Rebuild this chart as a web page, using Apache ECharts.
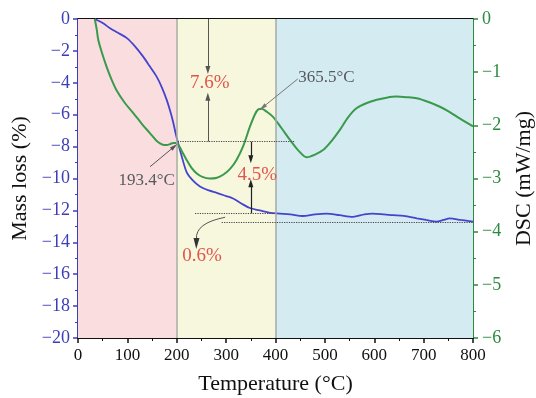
<!DOCTYPE html>
<html><head><meta charset="utf-8">
<script src="https://cdn.jsdelivr.net/npm/echarts@6/dist/echarts.min.js"></script>
<style>html,body{margin:0;padding:0;background:#fff}#c{width:536px;height:398px}</style>
</head><body><div id="c"></div>
<script>
// Temperature ticks
const xTicks = [0,100,200,300,400,500,600,700,800];
// TG mass loss curve (%)
const massT = [34,50,65,80,99,115,132,145,159,170,180,187,193,198,202,210,220,232,247,265,281,300,314,330,348,368,389,409,430,455,480,503,530,557,580,597,620,638,660,686,705,726,740,753,775,800];
const massVal = [0,-0.25,-0.58,-0.85,-1.2,-1.7,-2.36,-2.95,-3.6,-4.3,-5.1,-5.8,-6.5,-7.2,-7.7,-8.6,-9.6,-10.1,-10.5,-10.75,-10.9,-11.1,-11.25,-11.55,-11.85,-12.0,-12.15,-12.2,-12.25,-12.35,-12.25,-12.2,-12.3,-12.4,-12.25,-12.2,-12.25,-12.3,-12.35,-12.5,-12.6,-12.7,-12.6,-12.5,-12.6,-12.7];
// DSC curve (mW/mg)
const dscT = [34,38,41,48,58,68,78,95,112,130,146,158,166,174,180,187,193,198,203,210,220,230,240,252,267,280,294,308,321,335,348,358,365,372,383,395,412,429,446,463,480,497,513,530,547,564,585,605,625,645,665,686,710,733,753,773,800];
const dscVal = [0,-0.2,-0.39,-0.62,-0.9,-1.14,-1.34,-1.58,-1.77,-1.98,-2.15,-2.28,-2.34,-2.37,-2.37,-2.35,-2.33,-2.33,-2.36,-2.48,-2.65,-2.8,-2.9,-2.97,-3.0,-2.99,-2.93,-2.82,-2.65,-2.38,-2.03,-1.8,-1.7,-1.69,-1.75,-1.84,-2.05,-2.27,-2.47,-2.6,-2.55,-2.46,-2.3,-2.09,-1.85,-1.68,-1.58,-1.52,-1.48,-1.46,-1.47,-1.49,-1.56,-1.65,-1.75,-1.87,-2.02];
// Stage boundaries
const stages = [[0,200],[200,400],[400,800]];
// Mass loss levels used in annotations
const levels = [-7.69,-12.18,-12.77];
const lossLabels = ['7.6%','4.5%','0.6%'];
const peakLabels = ['193.4°C','365.5°C'];

const FONT = '"Liberation Serif","DejaVu Serif",serif';
const BLUE = '#3d3db8', GREEN = '#2b8a3e', RED = '#e0564c', GREYT = '#555a5e';
const stageColors = ['#fadedf','#f7f7de','#d5ebf2'];

const massData = massT.map((t,i)=>[t,massVal[i]]);
const dscData = dscT.map((t,i)=>[t,dscVal[i]]);

const dotted = {type:'dotted', color:'#444', width:1.2};
const annData = [
  [{coord:[202,levels[0]], lineStyle:dotted, symbol:'none'},{coord:[439,levels[0]], symbol:'none'}],
  [{coord:[237,levels[1]], lineStyle:dotted, symbol:'none'},{coord:[395,levels[1]], symbol:'none'}],
  [{coord:[291,levels[2]], lineStyle:dotted, symbol:'none'},{coord:[800,levels[2]], symbol:'none'}]
];
const aLine = {type:'solid', color:'#555', width:1};
const aLineDark = {type:'solid', color:'#222', width:1.2};
// 7.6% arrows
annData.push([{coord:[263,0], lineStyle:aLine, symbol:'none'},{coord:[263,-3.2], symbol:'triangle', symbolSize:[5,8]}]);
annData.push([{coord:[263,levels[0]], lineStyle:aLine, symbol:'none'},{coord:[263,-4.87], symbol:'triangle', symbolSize:[5,8]}]);
// 4.5% arrows
annData.push([{coord:[350,levels[0]], lineStyle:aLineDark, symbol:'none'},{coord:[350,-8.8], symbol:'triangle', symbolSize:[5,8]}]);
annData.push([{coord:[350,levels[1]], lineStyle:aLineDark, symbol:'none'},{coord:[350,-10.3], symbol:'triangle', symbolSize:[5,8]}]);
// peak pointers
annData.push([{coord:[146,-9.26], lineStyle:{type:'solid',color:'#555',width:1}, symbol:'none'},{coord:[195,-8.0], symbol:'triangle', symbolSize:[4,8]}]);
annData.push([{coord:[445,-3.76], lineStyle:{type:'solid',color:'#777',width:1}, symbol:'none'},{coord:[374,-5.54], symbol:'triangle', symbolSize:[4,8]}]);

function txt(coord,text,color,align,size){
  return {coord:coord, symbol:'circle', symbolSize:0.001, value:text,
    label:{show:true, position:'inside', formatter:text, color:color, fontFamily:FONT, fontSize:size, align:align, verticalAlign:'middle'}};
}
const texts = [
  txt([267,-4.03], lossLabels[0], RED, 'center', 19),
  txt([363,-9.8], lossLabels[1], RED, 'center', 19),
  txt([251,-14.87], lossLabels[2], RED, 'center', 19),
  txt([139,-10.1], peakLabels[0], GREYT, 'center', 17),
  txt([446,-3.64], peakLabels[1], GREYT, 'left', 17)
];
const minus = v => String(v).replace('-', '\u2212');

const chart = echarts.init(document.getElementById('c'), null, {renderer:'canvas'});
chart.setOption({
  animation:false,
  grid:{left:78, right:63, top:19, bottom:60, containLabel:false, outerBoundsMode:'none'},
  xAxis:[{
    type:'value', min:0, max:800, interval:100,
    name:'Temperature (°C)', nameLocation:'middle', nameGap:35,
    nameTextStyle:{fontFamily:FONT, fontSize:22, color:'#111'},
    axisLine:{onZero:false, lineStyle:{color:'#111', width:2}},
    axisTick:{show:true, inside:false, length:5, lineStyle:{color:'#111', width:1.5}},
    minorTick:{show:true, splitNumber:2, length:3, lineStyle:{color:'#111'}},
    axisLabel:{fontFamily:FONT, fontSize:17, color:'#111', margin:9},
    splitLine:{show:false}
  },{
    type:'value', min:0, max:800, position:'top',
    axisLine:{onZero:false, lineStyle:{color:'#111', width:2}},
    axisTick:{show:false}, axisLabel:{show:false}, splitLine:{show:false}
  }],
  yAxis:[{
    type:'value', min:-20, max:0, interval:2, position:'left',
    name:'Mass loss (%)', nameLocation:'middle', nameGap:46, nameRotate:90,
    nameTextStyle:{fontFamily:FONT, fontSize:22, color:'#111'},
    axisLine:{onZero:false, lineStyle:{color:BLUE, width:2}},
    axisTick:{show:true, length:5, lineStyle:{color:BLUE, width:1.5}},
    minorTick:{show:true, splitNumber:2, length:3, lineStyle:{color:BLUE}},
    axisLabel:{fontFamily:FONT, fontSize:18, color:BLUE, margin:8, formatter:minus},
    splitLine:{show:false}
  },{
    type:'value', min:-6, max:0, interval:1, position:'right',
    name:'DSC (mW/mg)', nameLocation:'middle', nameGap:40, nameRotate:90,
    nameTextStyle:{fontFamily:FONT, fontSize:22, color:'#111'},
    axisLine:{onZero:false, lineStyle:{color:GREEN, width:2}},
    axisTick:{show:true, length:5, lineStyle:{color:GREEN, width:1.5}},
    minorTick:{show:true, splitNumber:2, length:3, lineStyle:{color:GREEN}},
    axisLabel:{fontFamily:FONT, fontSize:18, color:GREEN, margin:9, formatter:minus},
    splitLine:{show:false}
  }],
  series:[
    {type:'line', xAxisIndex:0, yAxisIndex:0, data:[], z:0, silent:true,
     markArea:{silent:true, data: stages.map((s,i)=>[{xAxis:s[0], itemStyle:{color:stageColors[i]}},{xAxis:s[1]}])},
     markLine:{silent:true, symbol:'none', label:{show:false},
       lineStyle:{type:'solid', color:'#a9aaa4', width:1.5},
       data:[{xAxis:stages[1][0]},{xAxis:stages[2][0]}]}
    },
    {type:'line', name:'Mass', xAxisIndex:0, yAxisIndex:0, data:massData, smooth:0.3, showSymbol:false, z:3,
     lineStyle:{color:'#4444cc', width:1.8},
     markLine:{silent:true, animation:false, label:{show:false}, data:annData},
     markPoint:{silent:true, data:texts}
    },
    {type:'line', name:'DSC', xAxisIndex:0, yAxisIndex:1, data:dscData, smooth:0.3, showSymbol:false, z:3,
     lineStyle:{color:'#3a9a4c', width:2}}
  ]
});
// curved pointer for the 0.6% step (annotation, placed via the axes)
const p0 = chart.convertToPixel({xAxisIndex:0, yAxisIndex:0}, [298,-12.43]);
const pc = chart.convertToPixel({xAxisIndex:0, yAxisIndex:0}, [237,-12.8]);
const p1 = chart.convertToPixel({xAxisIndex:0, yAxisIndex:0}, [240,-13.8]);
const tip = chart.convertToPixel({xAxisIndex:0, yAxisIndex:0}, [239.5,-14.3]);
chart.setOption({graphic:[
  {type:'bezierCurve', z:50, shape:{x1:p0[0], y1:p0[1], x2:p1[0], y2:p1[1], cpx1:pc[0], cpy1:pc[1]},
   style:{stroke:'#555', lineWidth:1, fill:null}},
  {type:'polygon', z:50, shape:{points:[[p1[0]-3,p1[1]-1],[p1[0]+3,p1[1]-1],[tip[0],tip[1]+2]]}, style:{fill:'#333'}}
]});
</script></body></html>
